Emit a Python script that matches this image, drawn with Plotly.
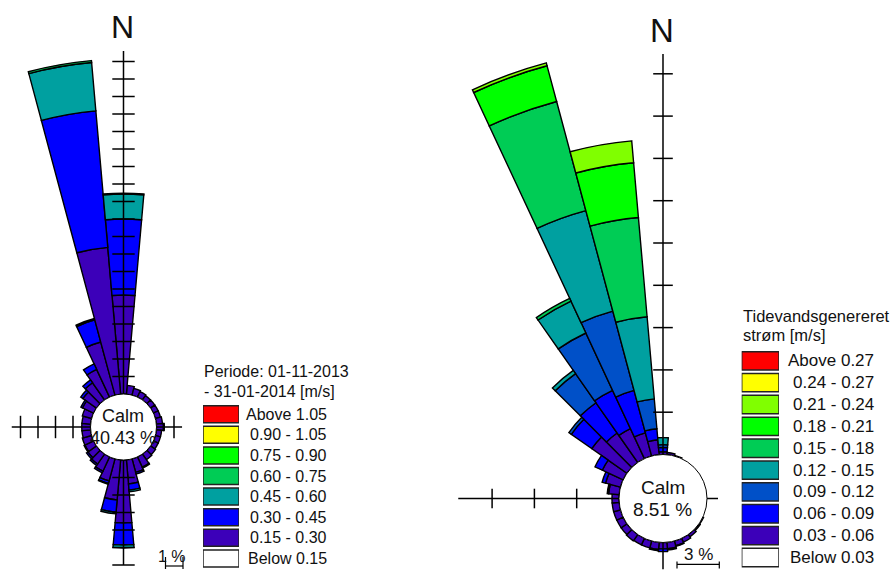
import math
import plotly.graph_objects as go

W, H = 894, 570
FONT = "Liberation Sans, Arial, sans-serif"
INK = "#111111"

# ---------------- data ----------------
directions = [0, 10, 20, 30, 40, 50, 60, 70, 80, 90, 100, 110, 120, 130, 140, 150, 160, 170,
              180, 190, 200, 210, 220, 230, 240, 250, 260, 270, 280, 290, 300, 310, 320, 330, 340, 350]

# Left rose: "Periode: 01-11-2013 - 31-01-2014 [m/s]"  (percent of time)
left_title = ["Periode: 01-11-2013", "- 31-01-2014 [m/s]"]
left_labels = ["Above 1.05", "0.90 - 1.05", "0.75 - 0.90", "0.60 - 0.75",
               "0.45 - 0.60", "0.30 - 0.45", "0.15 - 0.30", "Below 0.15"]
left_colors = ["#FF0000", "#FFFF00", "#00FF00", "#00CC55",
               "#00A0A0", "#0000FF", "#3C00B9", "#FFFFFF"]
left_calm = 40.43
left_015_030 = [5.66, 0.50, 0.40, 0.35, 0.30, 0.30, 0.30, 0.30, 0.35, 0.40, 0.30, 0.30, 0.30, 0.35, 0.40, 0.65, 0.80, 1.38,
                3.60, 2.30, 1.30, 0.90, 0.70, 0.60, 0.55, 0.55, 0.50, 0.50, 0.50, 0.55, 0.70, 0.95, 1.20, 1.75, 3.14, 8.42]
left_030_045 = [4.34, 0, 0, 0, 0, 0, 0, 0, 0, 0.05, 0, 0, 0, 0, 0, 0.05, 0.10, 0.35,
                1.26, 0.70, 0.15, 0.10, 0.10, 0.10, 0.05, 0, 0, 0, 0, 0, 0.10, 0.15, 0.20, 0.35, 1.31, 7.83]
left_045_060 = [1.43, 0, 0, 0, 0, 0, 0, 0, 0, 0, 0, 0, 0, 0, 0, 0, 0, 0.10,
                0.17, 0.10, 0.05, 0, 0, 0, 0, 0, 0, 0, 0, 0, 0, 0, 0, 0, 0.08, 2.77]
left_060_075 = [0.05, 0, 0, 0, 0, 0, 0, 0, 0, 0, 0, 0, 0, 0, 0, 0, 0, 0,
                0, 0, 0, 0, 0, 0, 0, 0, 0, 0, 0, 0, 0, 0, 0, 0, 0, 0.11]

# Right rose: "Tidevandsgenereret strøm [m/s]"  (percent of time)
right_title = ["Tidevandsgenereret", "strøm [m/s]"]
right_labels = ["Above 0.27", "0.24 - 0.27", "0.21 - 0.24", "0.18 - 0.21", "0.15 - 0.18",
                "0.12 - 0.15", "0.09 - 0.12", "0.06 - 0.09", "0.03 - 0.06", "Below 0.03"]
right_colors = ["#FF0000", "#FFFF00", "#80FF00", "#00FF00", "#00CC55",
                "#00A0A0", "#0050C8", "#0000FF", "#3C00B9", "#FFFFFF"]
right_calm = 8.51
right_003_006 = [0.20, 0.15, 0.05, 0, 0, 0, 0, 0, 0, 0, 0, 0, 0.05, 0.10, 0.20, 0.30, 0.35, 0.45,
                 0.45, 0.50, 0.50, 0.50, 0.55, 0.50, 0.50, 0.50, 0.50, 0.50, 0.75, 1.10, 1.63, 3.05, 2.55, 2.34, 1.70, 1.06]
right_006_009 = [0.30, 0, 0, 0, 0, 0, 0, 0, 0, 0, 0, 0, 0, 0, 0, 0, 0.05, 0.10,
                 0.20, 0.10, 0, 0, 0, 0, 0, 0, 0, 0, 0.10, 0.25, 0.57, 1.77, 2.62, 3.00, 3.12, 0.78]
right_009_012 = [0.20, 0, 0, 0, 0, 0, 0, 0, 0, 0, 0, 0, 0, 0, 0, 0, 0, 0,
                 0, 0, 0, 0, 0, 0, 0, 0, 0, 0, 0, 0, 0, 0.21, 2.52, 4.49, 5.82, 2.13]
right_012_015 = [0.50, 0, 0, 0, 0, 0, 0, 0, 0, 0, 0, 0, 0, 0, 0, 0, 0, 0,
                 0, 0, 0, 0, 0, 0, 0, 0, 0, 0, 0, 0, 0, 0, 0.28, 2.50, 7.38, 5.85]
right_015_018 = [0, 0, 0, 0, 0, 0, 0, 0, 0, 0, 0, 0, 0, 0, 0, 0, 0, 0,
                 0, 0, 0, 0, 0, 0, 0, 0, 0, 0, 0, 0, 0, 0, 0, 0.21, 8.01, 7.06]
right_018_021 = [0, 0, 0, 0, 0, 0, 0, 0, 0, 0, 0, 0, 0, 0, 0, 0, 0, 0,
                 0, 0, 0, 0, 0, 0, 0, 0, 0, 0, 0, 0, 0, 0, 0, 0, 2.62, 3.90]
right_021_024 = [0, 0, 0, 0, 0, 0, 0, 0, 0, 0, 0, 0, 0, 0, 0, 0, 0, 0,
                 0, 0, 0, 0, 0, 0, 0, 0, 0, 0, 0, 0, 0, 0, 0, 0, 0.21, 1.56]

left_series = [(left_015_030, left_colors[6]), (left_030_045, left_colors[5]),
               (left_045_060, left_colors[4]), (left_060_075, left_colors[3])]
right_series = [(right_003_006, right_colors[8]), (right_006_009, right_colors[7]),
                (right_009_012, right_colors[6]), (right_012_015, right_colors[5]),
                (right_015_018, right_colors[4]), (right_018_021, right_colors[3]),
                (right_021_024, right_colors[2])]

# radial axes (percent): length of each axis arm and its tick positions
left_axes = {"N": (19.6, list(range(1, 20))), "E": (1.46, [1]), "S": (6.0, list(range(1, 7))), "W": (4.5, [1, 2, 3, 4])}
right_axes = {"N": (28.4, [3, 6, 9, 12, 15, 18, 21, 24, 27]), "E": (0.78, []), "S": (1.9, []), "W": (11.4, [3, 6, 9])}

# ---------------- geometry (pixels) ----------------
LEFT = dict(cx=123.5, cy=427.0, r0=33.0, k=17.5)     # k = px per percent
RIGHT = dict(cx=663.0, cy=498.5, r0=44.0, k=14.1)


def sector_bbox(s0, s1):
    arc = s1 - s0
    a0 = s0 % 360
    a1 = a0 + arc
    ax0, ay0 = math.cos(math.radians(a0)), math.sin(math.radians(a0))
    ax1, ay1 = math.cos(math.radians(a1)), math.sin(math.radians(a1))
    if (a0 <= 90 and a1 >= 90) or (a0 > 90 and a1 >= 450):
        y1 = 1
    elif ay0 <= 0 and ay1 <= 0:
        y1 = 0
    else:
        y1 = max(ay0, ay1)
    if (a0 <= 180 and a1 >= 180) or (a0 > 180 and a1 >= 540):
        x0 = -1
    elif ax0 >= 0 and ax1 >= 0:
        x0 = 0
    else:
        x0 = min(ax0, ax1)
    if (a0 <= 270 and a1 >= 270) or (a0 > 270 and a1 >= 630):
        y0 = -1
    elif ay0 >= 0 and ay1 >= 0:
        y0 = 0
    else:
        y0 = min(ay0, ay1)
    if a1 >= 360:
        x1 = 1
    elif ax0 <= 0 and ax1 <= 0:
        x1 = 0
    else:
        x1 = max(ax0, ax1)
    return x0, y0, x1, y1


def polar_layout(geo, R, compass=None):
    if compass is None:
        sector = [0, 360]
    else:
        sector = [90 - compass[1], 90 - compass[0]]
    bx0, by0, bx1, by1 = sector_bbox(*sector)
    cx, cy = geo["cx"], geo["cy"]
    xd = [max(0, (cx + R * bx0) / W), min(1, (cx + R * bx1) / W)]
    yd = [max(0, 1 - (cy - R * by0) / H), min(1, 1 - (cy - R * by1) / H)]
    return dict(
        domain=dict(x=xd, y=yd), sector=sector, hole=geo["r0"] / R,
        bgcolor="rgba(0,0,0,0)",
        radialaxis=dict(range=[0, (R - geo["r0"]) / geo["k"]], visible=False),
        angularaxis=dict(rotation=90, direction="clockwise", visible=False),
    )


fig = go.Figure()


def add_bars(series, keep, subplot):
    for vals, col in series:
        th = [d for d, v in zip(directions, vals) if keep(d) and v > 0]
        rr = [v for d, v in zip(directions, vals) if keep(d) and v > 0]
        if th:
            fig.add_trace(go.Barpolar(r=rr, theta=th, width=10, subplot=subplot,
                                      marker=dict(color=col, line=dict(color="black", width=1.4)),
                                      hoverinfo="skip"))


ANG = {"N": 0, "E": 90, "S": 180, "W": 270}


def add_axis(subplot, name, spec, ticksize):
    length, ticks = spec
    th = ANG[name]
    fig.add_trace(go.Scatterpolar(r=[0, length], theta=[th, th], mode="lines", subplot=subplot,
                                  line=dict(color="black", width=1.5), hoverinfo="skip"))
    if ticks:
        sym = "line-ew" if name in ("N", "S") else "line-ns"
        fig.add_trace(go.Scatterpolar(r=ticks, theta=[th] * len(ticks), mode="markers", subplot=subplot,
                                      marker=dict(symbol=sym, size=ticksize, color="black",
                                                  line=dict(color="black", width=1.5)),
                                      hoverinfo="skip"))


# left rose: small full circle + north sector + south sector
left_big = {350, 0}
add_bars(left_series, lambda d: d not in left_big, "polar")
add_axis("polar", "W", left_axes["W"], 16)
add_axis("polar", "E", left_axes["E"], 16)
add_bars(left_series, lambda d: d in left_big, "polar2")
add_axis("polar2", "N", left_axes["N"], 16)
add_axis("polar3", "S", left_axes["S"], 16)

# right rose: small full circle + NW sector + west sector
right_big = {300, 310, 320, 330, 340, 350, 0}
add_bars(right_series, lambda d: d not in right_big, "polar4")
add_axis("polar4", "E", right_axes["E"], 14)
add_axis("polar4", "S", right_axes["S"], 14)
add_bars(right_series, lambda d: d in right_big, "polar5")
add_axis("polar5", "N", right_axes["N"], 14)
add_axis("polar6", "W", right_axes["W"], 14)

layout = dict(
    polar=polar_layout(LEFT, 122),
    polar2=polar_layout(LEFT, 380, (-16, 16)),
    polar3=polar_layout(LEFT, 142, (170, 190)),
    polar4=polar_layout(RIGHT, 71.5),
    polar5=polar_layout(RIGHT, 460, (-66, 12)),
    polar6=polar_layout(RIGHT, 210, (-100, -80)),
)

# ---------------- legends (colour boxes as horizontal bars) ----------------
def px_x(x):
    return x / W


def px_y(y):
    return 1 - y / H


def legend_axes(x0, x1, top, step, n):
    bottom = top + n * step
    return dict(domain=[px_x(x0), px_x(x1)], range=[0, 1], visible=False, fixedrange=True), \
        dict(domain=[px_y(bottom), px_y(top)], range=[n - 0.5, -0.5], visible=False, fixedrange=True)


xa1, ya1 = legend_axes(203, 239, 403.9, 20.6, len(left_labels))
xa2, ya2 = legend_axes(741.7, 779, 349.9, 21.85, len(right_labels))
layout.update(xaxis=xa1, yaxis=ya1, xaxis2=xa2, yaxis2=ya2)

fig.add_trace(go.Bar(x=[1] * len(left_labels), y=list(range(len(left_labels))), orientation="h",
                     width=0.825, marker=dict(color=left_colors, line=dict(color="#222", width=1.5)),
                     xaxis="x", yaxis="y", cliponaxis=False, hoverinfo="skip"))
fig.add_trace(go.Bar(x=[1] * len(right_labels), y=list(range(len(right_labels))), orientation="h",
                     width=0.84, marker=dict(color=right_colors, line=dict(color="#222", width=1.5)),
                     xaxis="x2", yaxis="y2", cliponaxis=False, hoverinfo="skip"))

ann = []


def text(x, y, s, size, xanchor="center", xref="paper", yref="paper"):
    ann.append(dict(x=x, y=y, text=s, xref=xref, yref=yref, xanchor=xanchor, yanchor="middle",
                    showarrow=False, borderpad=0, font=dict(family=FONT, size=size, color=INK)))


for i, lab in enumerate(left_labels):
    text(px_x(328), i, lab, 16, "right", yref="y")
for i, lab in enumerate(right_labels):
    text(px_x(875), i, lab, 17, "right", yref="y2")

text(px_x(203), px_y(371), left_title[0], 16, "left")
text(px_x(203), px_y(391), left_title[1], 16, "left")
text(px_x(741.5), px_y(316), right_title[0], 16.5, "left")
text(px_x(741.5), px_y(335), right_title[1], 16.5, "left")

text(px_x(122.5), px_y(27), "N", 32)
text(px_x(661.5), px_y(30.5), "N", 33)

shapes = []
for geo, calm, fs in ((LEFT, left_calm, 18), (RIGHT, right_calm, 19)):
    cx, cy, r0 = geo["cx"], geo["cy"], geo["r0"]
    shapes.append(dict(type="circle", xref="paper", yref="paper",
                       x0=px_x(cx - r0), x1=px_x(cx + r0), y0=px_y(cy + r0), y1=px_y(cy - r0),
                       fillcolor="white", line=dict(color="black", width=1), layer="above"))
    text(px_x(cx - 0.5), px_y(cy - 11), "Calm", fs)
    text(px_x(cx - 0.5), px_y(cy + 11), f"{calm:.2f} %", fs)

# scale brackets
for geo, pct, x0, yh, ylo, yhi, tx, ty, fs in ((LEFT, 1, 165.5, 566, 557, 569, 172, 556.5, 16),
                                                (RIGHT, 3, 677, 564.3, 561.5, 568.5, 698, 554, 17)):
    x1 = x0 + pct * geo["k"]
    for seg in ((x0, yh, x1, yh), (x0, ylo, x0, yhi), (x1, ylo, x1, yhi)):
        shapes.append(dict(type="line", xref="paper", yref="paper",
                           x0=px_x(seg[0]), y0=px_y(seg[1]), x1=px_x(seg[2]), y1=px_y(seg[3]),
                           line=dict(color="black", width=1.2), layer="above"))
    text(px_x(tx), px_y(ty), f"{pct} %", fs)

layout.update(width=W, height=H, margin=dict(l=0, r=0, t=0, b=0, pad=0),
              paper_bgcolor="white", plot_bgcolor="rgba(0,0,0,0)", showlegend=False,
              annotations=ann, shapes=shapes, font=dict(family=FONT, color=INK))
fig.update_layout(**layout)
fig.write_html("out.html", config={"displayModeBar": False},
               post_script="document.body.style.margin='0px';document.body.style.overflow='hidden';")
